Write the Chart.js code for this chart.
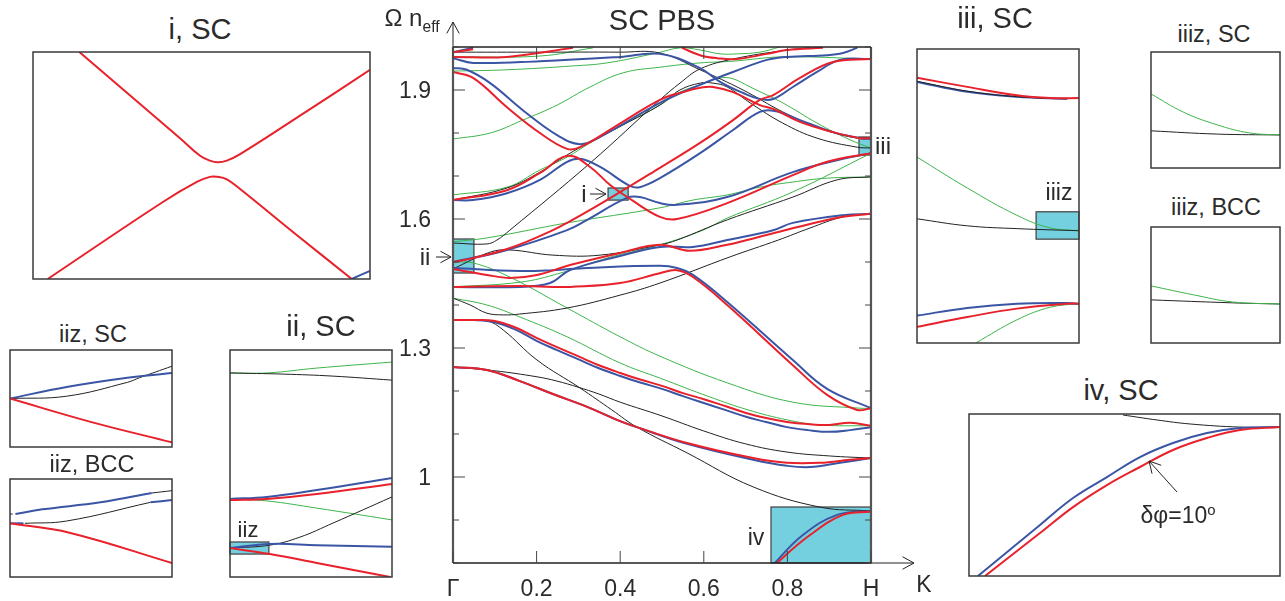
<!DOCTYPE html>
<html>
<head>
<meta charset="utf-8">
<title>SC PBS</title>
<script src="https://cdn.jsdelivr.net/npm/chart.js@4"></script>
<style>
  html, body { margin: 0; padding: 0; background: #fff; overflow: hidden; }
  canvas { position: absolute; }
  .label { position: absolute; font-family: "Liberation Sans", sans-serif; color: #2b2b2b;
           white-space: nowrap; transform: translate(-50%, -50%); line-height: 1; }
  .label sub, .label sup { font-size: 65%; }
</style>
</head>
<body>
<script>
// Tick labels of the main panel
const xTickLabels = ["Γ", "0.2", "0.4", "0.6", "0.8", "H"];
const yTickLabels = ["1", "1.3", "1.6", "1.9"];

// Main panel bands, K along Γ-H and Ω n_eff
const black1K = [0, .1, .201, .249, .299, .349, .4, .5, .6, .7, .799, .9, 1];
const black1W = [1.256, 1.247, 1.233, 1.223, 1.209, 1.193, 1.174, 1.142, 1.107, 1.077, 1.058, 1.049, 1.044];
const black2K = [0, .081, .12, .201, .304, .38, .44, .56, .718, .878, 1];
const black2W = [1.365, 1.363, 1.342, 1.272, 1.207, 1.156, 1.116, 1.056, .977, .93, .921];
const black3K = [0, .041, .081, .12, .16, .273, .4, .495, .663, .778, .854, .933, 1];
const black3W = [1.416, 1.4, 1.381, 1.377, 1.379, 1.393, 1.423, 1.451, 1.512, 1.551, 1.579, 1.605, 1.612];
const black4K = [0, .089, .136, .239, .352, .495, .536, .656, .813, .919, 1];
const black4W = [1.484, 1.523, 1.528, 1.516, 1.516, 1.54, 1.551, 1.598, 1.651, 1.691, 1.698];
const black5K = [0, .081, .105, .136, .328, .495, .543, .591, .67, .799, .854];
const black5W = [1.544, 1.542, 1.551, 1.574, 1.73, 1.877, 1.916, 1.949, 1.972, 1.993, 1.998];
const black6K = [0, .129, .208, .273, .328, .407, .495, .543, .591, .622, .656, .711, .789, .871, .967, 1];
const black6W = [1.644, 1.672, 1.709, 1.749, 1.779, 1.819, 1.865, 1.9, 1.916, 1.916, 1.907, 1.87, 1.823, 1.788, 1.767, 1.765];
const black7K = [0, .208, .4, .495, .591, .694, .789, .871, .95, 1];
const black7W = [1.988, 1.988, 1.988, 1.986, 1.947, 1.9, 1.849, 1.814, 1.791, 1.788];

const green1K = [0, .081, .16, .273, .4, .495, .615, .706, .799, .878, 1];
const green1W = [1.416, 1.4, 1.372, 1.326, 1.265, 1.23, 1.186, 1.156, 1.133, 1.121, 1.119];
const green2K = [0, .048, .136, .273, .4, .495, .656, .813, .974, 1];
const green2W = [1.5, 1.498, 1.465, 1.393, 1.326, 1.281, 1.219, 1.174, 1.16, 1.16];
const green3K = [0, .16, .256, .368, .495, .598, .656, .813, 1];
const green3W = [1.442, 1.453, 1.474, 1.509, 1.54, 1.574, 1.602, 1.663, 1.753];
const green4K = [0, .081, .273, .495, .574, .656, .734, .813, .895, 1];
const green4W = [1.547, 1.556, 1.591, 1.626, 1.644, 1.656, 1.674, 1.686, 1.695, 1.698];
const green5K = [0, .129, .208, .273, .328, .407, .495, .543, .591, .639, .67, .711, .789, .871, .95, 1];
const green5W = [1.656, 1.674, 1.714, 1.744, 1.777, 1.819, 1.865, 1.895, 1.912, 1.928, 1.926, 1.907, 1.87, 1.823, 1.784, 1.765];
const green6K = [0, .089, .167, .249, .328, .407, .495, .591, .67, .789, 1];
const green6W = [1.786, 1.8, 1.83, 1.865, 1.907, 1.94, 1.953, 1.963, 1.967, 1.977, 1.972];
const green7K = [0, .129, .287, .368, .488, .543, .591, .639, .679, .734, .782];
const green7W = [1.944, 1.947, 1.956, 1.963, 1.986, 1.998, 1.993, 1.984, 1.984, 1.988, 2];
const green8K = [0, .208, .335];
const green8W = [1.977, 1.979, 1.998];

const red1K = [0, .081, .16, .239, .321, .392, .44, .56, .718, .799, .878, .95, 1];
const red1W = [1.256, 1.249, 1.223, 1.193, 1.163, 1.133, 1.116, 1.079, 1.044, 1.033, 1.033, 1.04, 1.044];
const red2K = [0, .048, .1, .151, .201, .249, .299, .349, .4, .45, .5, .55, .6, .651, .701, .749, .799, .849, .9, .95, 1];
const red2W = [1.365, 1.365, 1.363, 1.347, 1.323, 1.302, 1.281, 1.26, 1.242, 1.226, 1.212, 1.195, 1.181, 1.165, 1.149, 1.137, 1.128, 1.123, 1.121, 1.126, 1.119];
const red3K = [0, .16, .239, .28, .4, .495, .536, .574, .656, .813, .895, .967, 1];
const red3W = [1.442, 1.444, 1.442, 1.442, 1.451, 1.474, 1.481, 1.465, 1.4, 1.26, 1.191, 1.156, 1.16];
const red4K = [0, .081, .136, .201, .28, .4, .495, .567, .656, .703, .794, .933, 1];
const red4W = [1.484, 1.47, 1.463, 1.47, 1.493, 1.521, 1.54, 1.526, 1.54, 1.551, 1.574, 1.605, 1.612];
const red5K = [0, .048, .144, .239, .273, .368, .495, .591, .67, .734, .766, .83, .909, 1];
const red5W = [1.5, 1.509, 1.535, 1.574, 1.591, 1.644, 1.719, 1.777, 1.83, 1.877, 1.888, 1.928, 1.965, 1.972];
const red6K = [0, .129, .208, .275, .328, .376, .428, .495, .536, .656, .813, .895, 1];
const red6W = [1.644, 1.667, 1.707, 1.747, 1.721, 1.679, 1.644, 1.605, 1.6, 1.637, 1.702, 1.733, 1.753];
const red7K = [0, .048, .129, .208, .273, .304, .383, .495, .55, .591, .622, .67, .734, .766, .83, .909, .974, 1];
const red7W = [1.942, 1.928, 1.86, 1.8, 1.763, 1.767, 1.812, 1.877, 1.895, 1.905, 1.907, 1.895, 1.865, 1.856, 1.826, 1.802, 1.788, 1.788];
const red8K = [0, .129, .287];
const red8W = [1.977, 1.977, 1.998];
const red9K = [0, .048];
const red9W = [1.988, 1.995];
const red10K = [.548, .591, .632, .679, .751, .799, .885];
const red10W = [1.998, 1.981, 1.974, 1.972, 1.984, 1.993, 1.998];
const red11K = [.765, .775, .854, .933, 1];
const red11W = [.787, .8, .865, .912, .919];

const blue1K = [0, .081, .16, .239, .321, .392, .44, .56, .718, .799, .854, .926, 1];
const blue1W = [1.256, 1.249, 1.223, 1.193, 1.163, 1.133, 1.116, 1.077, 1.04, 1.026, 1.023, 1.033, 1.044];
const blue2K = red2K;
const blue2W = [1.365, 1.365, 1.36, 1.342, 1.316, 1.295, 1.274, 1.253, 1.235, 1.219, 1.205, 1.188, 1.172, 1.156, 1.14, 1.128, 1.116, 1.109, 1.105, 1.109, 1.116];
const blue3K = [0, .16, .239, .321, .495, .536, .574, .656, .813, .895, 1];
const blue3W = [1.486, 1.479, 1.481, 1.486, 1.491, 1.486, 1.47, 1.407, 1.272, 1.205, 1.16];
const blue4K = [0, .16, .232, .28, .392, .495, .574, .656, .766, .813, .933, 1];
const blue4W = [1.442, 1.442, 1.451, 1.481, 1.512, 1.535, 1.535, 1.551, 1.574, 1.591, 1.609, 1.612];
const blue5K = [0, .129, .273, .321, .416, .447, .495, .536, .656, .813, .933, 1];
const blue5W = [1.5, 1.528, 1.574, 1.598, 1.649, 1.651, 1.637, 1.633, 1.651, 1.709, 1.74, 1.753];
const blue6K = [0, .048, .129, .208, .273, .304, .352, .423, .447, .495, .591, .67, .734, .77, .83, .909, .974, 1];
const blue6W = [1.644, 1.644, 1.66, 1.691, 1.733, 1.74, 1.721, 1.677, 1.674, 1.695, 1.753, 1.807, 1.849, 1.851, 1.83, 1.802, 1.788, 1.786];
const blue7K = [0, .033, .089, .167, .249, .304, .352, .495, .591, .67, .751, .799, .895, .933, .967];
const blue7W = [1.951, 1.947, 1.916, 1.853, 1.795, 1.774, 1.791, 1.87, 1.912, 1.942, 1.97, 1.977, 1.981, 1.986, 1.998];
const blue8K = [0, .048, .208, .4, .495, .591, .639, .694, .734, .766, .813, .871, .926, 1];
const blue8W = [1.974, 1.963, 1.967, 1.977, 1.984, 1.951, 1.919, 1.893, 1.879, 1.879, 1.907, 1.942, 1.97, 1.972];
const blue9K = [0, .048];
const blue9W = [1.988, 1.998];
const blue10K = [.761, .77, .837, .919, 1];
const blue10W = [.787, .8, .865, .912, .921];

// Inset i
const iUpperK = [.3776, .3919, .3948, .3962, .3973, .3986, .4005, .4086, .419];
const iUpperW = [1.672, 1.6614, 1.6592, 1.6586, 1.6584, 1.6586, 1.6594, 1.6639, 1.6698];
const iLowerK = [.3731, .3895, .3944, .3962, .3972, .3986, .4005, .4086, .4164];
const iLowerW = [1.644, 1.6535, 1.656, 1.6566, 1.6566, 1.6563, 1.6551, 1.6494, 1.644];
const iBlueK = [.4164, .419];
const iBlueW = [1.644, 1.645];

// Inset ii
const iiGreenAK = [0, .0114, .0268, .05];
const iiGreenAW = [1.5455, 1.5455, 1.5472, 1.5493];
const iiBlackAK = [0, .0164, .0318, .05];
const iiBlackAW = [1.5455, 1.5451, 1.5444, 1.543];
const iiBlueAK = [0, .0114, .0268, .05];
const iiBlueAW = [1.5016, 1.5023, 1.5047, 1.5089];
const iiRedAK = [0, .0114, .0268, .05];
const iiRedAW = [1.5012, 1.5016, 1.5033, 1.5068];
const iiGreenBK = [0, .0114, .0268, .05];
const iiGreenBW = [1.5016, 1.5009, 1.4984, 1.4943];
const iiBlackBK = [0, .0123, .0216, .0318, .05];
const iiBlackBW = [1.4845, 1.4855, 1.4883, 1.4932, 1.5023];
const iiBlueBK = [0, .0123, .0268, .05];
const iiBlueBW = [1.4845, 1.4859, 1.4855, 1.4849];
const iiRedBK = [0, .0123, .0268, .0494];
const iiRedBW = [1.4845, 1.4824, 1.4793, 1.4744];

// Insets iiz
const iizScBlueK = [0, .0042, .0087, .012];
const iizScBlueW = [1.4845, 1.485, 1.4854, 1.4856];
const iizScBlackK = [0, .0042, .0087, .0096, .012];
const iizScBlackW = [1.4845, 1.4846, 1.4852, 1.4854, 1.4859];
const iizScRedK = [0, .0059, .012];
const iizScRedW = [1.4845, 1.4835, 1.4826];

const iizBccBlueAK = [.0004, .0024, .0067, .0105];
const iizBccBlueAW = [1.4851, 1.4853, 1.4856, 1.486];
const iizBccBlackAK = [.0105, .012];
const iizBccBlackAW = [1.486, 1.4861];
const iizBccBlueBK = [0, .001];
const iizBccBlueBW = [1.4847, 1.4847];
const iizBccBlackBK = [.0011, .0042, .0104];
const iizBccBlackBW = [1.4847, 1.4848, 1.4856];
const iizBccBlueCK = [.0104, .012];
const iizBccBlueCW = [1.4856, 1.4857];
const iizBccBlackCK = [0, .0002];
const iizBccBlackCW = [1.4851, 1.4851];
const iizBccRedK = [0, .0044, .012];
const iizBccRedW = [1.4847, 1.4843, 1.483];

// Inset iii
const iiiRedAK = [.9713, .9802, .989, .9949, 1];
const iiiRedAW = [1.7866, 1.7853, 1.7841, 1.7837, 1.7837];
const iiiBlueAK = [.9713, .9802, .989, .9979];
const iiiBlueAW = [1.786, 1.7846, 1.7839, 1.7836];
const iiiBlackAK = [.9713, .9802, .989, .9979];
const iiiBlackAW = [1.7861, 1.7847, 1.7839, 1.7836];
const iiiGreenAK = [.9713, .9802, .989, .9949, 1];
const iiiGreenAW = [1.7753, 1.7709, 1.767, 1.7652, 1.7648];
const iiiBlackBK = [.9713, .9802, .989, 1];
const iiiBlackBW = [1.7665, 1.7655, 1.7651, 1.7648];
const iiiBlueBK = [.9713, .9802, .989, .9979, 1];
const iiiBlueBW = [1.7527, 1.7538, 1.7544, 1.7545, 1.7544];
const iiiRedBK = [.9713, .9802, .989, .9979, 1];
const iiiRedBW = [1.7511, 1.7525, 1.7537, 1.7544, 1.7544];
const iiiGreenBK = [.9817, .989, .9949, 1];
const iiiGreenBW = [1.7488, 1.7521, 1.7539, 1.7544];

// Insets iiiz
const iiizScGreenK = [.9924, .9943, .9963, .9982, 1];
const iiizScGreenW = [1.76609, 1.76548, 1.76505, 1.76478, 1.76471];
const iiizScBlackK = [.9924, .9963, 1];
const iiizScBlackW = [1.76485, 1.76474, 1.76471];
const iiizBccGreenK = [.9924, .9949, .9972, 1];
const iiizBccGreenW = [1.76552, 1.76522, 1.76498, 1.76491];
const iiizBccBlackK = [.9924, .9972, 1];
const iiizBccBlackW = [1.76505, 1.76495, 1.76491];

// Inset iv
const ivBlackK = [.8792, .9054, .9307, .9692, 1];
const ivBlackW = [.9294, .9254, .9222, .9197, .9197];
const ivBlueK = [.7677, .8154, .8408, .8669, .8923, .9177, .9438, .9692, 1];
const ivBlueW = [.8, .841, .8627, .8795, .8956, .9069, .9149, .9189, .9197];
const ivRedK = [.7731, .8154, .8408, .8669, .8923, .9177, .9438, .9692, 1];
const ivRedW = [.8, .8345, .8554, .8731, .8876, .9013, .9109, .9173, .9197];

const RED = "#e8212b", BLUE = "#3b55a5", GREEN = "#3db54a", BLACK = "#222222";
const CYAN = "#74cfdf", FRAME = "#3a3a3a";

const curve = (k, w, color) => ({
  data: k.map((x, i) => ({ x: x, y: w[i] })),
  borderColor: color,
  borderWidth: color === RED || color === BLUE ? 2 : 1,
  pointRadius: 0,
  tension: 0.4
});

const arrow = (ctx, x1, y1, x2, y2, head) => {
  const a = Math.atan2(y2 - y1, x2 - x1);
  ctx.beginPath();
  ctx.moveTo(x1, y1);
  ctx.lineTo(x2, y2);
  ctx.moveTo(x2 - head * Math.cos(a - 0.5), y2 - head * Math.sin(a - 0.5));
  ctx.lineTo(x2, y2);
  ctx.lineTo(x2 - head * Math.cos(a + 0.5), y2 - head * Math.sin(a + 0.5));
  ctx.stroke();
};

// Cyan zoom windows under the curves
const zoomBoxes = {
  id: "zoomBoxes",
  beforeDatasetsDraw(chart, args, opts) {
    const { ctx, scales } = chart;
    (opts.boxes || []).forEach(b => {
      const x0 = scales.x.getPixelForValue(b[0]), x1 = scales.x.getPixelForValue(b[1]);
      const y0 = scales.y.getPixelForValue(b[3]), y1 = scales.y.getPixelForValue(b[2]);
      ctx.fillStyle = CYAN;
      ctx.fillRect(x0, y0, x1 - x0, y1 - y0);
      ctx.strokeStyle = "#4a4a4a";
      ctx.lineWidth = 1.3;
      ctx.strokeRect(x0, y0, x1 - x0, y1 - y0);
    });
  }
};

// Panel frame, plus the inward ticks and axis arrows of the main panel
const frame = {
  id: "frame",
  afterDatasetsDraw(chart, args, opts) {
    const { ctx, chartArea: a, scales } = chart;
    ctx.save();
    ctx.strokeStyle = FRAME;
    ctx.lineWidth = 1.5;
    if (!opts.main) {
      ctx.strokeRect(a.left, a.top, a.width, a.height);
    } else {
      ctx.strokeStyle = "#555555";
      ctx.lineWidth = 2.2;
      ctx.beginPath();
      ctx.moveTo(a.left, a.top); ctx.lineTo(a.left, a.bottom);
      ctx.moveTo(a.right, a.top); ctx.lineTo(a.right, a.bottom);
      ctx.stroke();
      ctx.strokeStyle = "#222222";
      ctx.lineWidth = 1.4;
      ctx.beginPath();
      ctx.moveTo(a.left, a.top); ctx.lineTo(a.right, a.top);
      ctx.moveTo(a.left, a.bottom); ctx.lineTo(a.right, a.bottom);
      ctx.stroke();
      ctx.lineWidth = 1;
      ctx.strokeStyle = "#444444";
      ctx.beginPath();
      scales.x.ticks.forEach(t => {
        const x = scales.x.getPixelForValue(t.value);
        ctx.moveTo(x, a.bottom); ctx.lineTo(x, a.bottom - 12);
        ctx.moveTo(x, a.top); ctx.lineTo(x, a.top + 12);
      });
      scales.y.ticks.forEach(t => {
        const y = scales.y.getPixelForValue(t.value);
        const len = t.label ? 12 : 6;
        ctx.moveTo(a.left, y); ctx.lineTo(a.left + len, y);
        ctx.moveTo(a.right, y); ctx.lineTo(a.right - len, y);
      });
      ctx.stroke();
    }
    ctx.strokeStyle = "#222222";
    ctx.lineWidth = 1;
    (opts.arrows || []).forEach(p => arrow(ctx, p[0], p[1], p[2], p[3], p[4]));
    ctx.restore();
  }
};

// One chart per panel, each canvas placed by hand on the page
const addPanel = (left, top, right, bottom, kRange, wRange, datasets, pluginOpts) => {
  const pad = 2;
  const canvas = document.createElement("canvas");
  canvas.width = right - left + pad * 2;
  canvas.height = bottom - top + pad * 2;
  canvas.style.left = (left - pad) + "px";
  canvas.style.top = (top - pad) + "px";
  document.body.appendChild(canvas);
  return new Chart(canvas, {
    type: "line",
    data: { datasets: datasets },
    plugins: [zoomBoxes, frame],
    options: {
      responsive: false,
      animation: false,
      layout: { padding: pad, autoPadding: false },
      plugins: {
        legend: { display: false },
        tooltip: { enabled: false },
        zoomBoxes: { boxes: (pluginOpts && pluginOpts.boxes) || [] },
        frame: { arrows: (pluginOpts && pluginOpts.arrows) || [] }
      },
      scales: {
        x: { type: "linear", display: false, min: kRange[0], max: kRange[1] },
        y: { type: "linear", display: false, min: wRange[0], max: wRange[1] }
      }
    }
  });
};

// Main panel
const mainCanvas = document.createElement("canvas");
mainCanvas.width = 560;
mainCanvas.height = 601;
mainCanvas.style.left = "380px";
mainCanvas.style.top = "0px";
document.body.appendChild(mainCanvas);

new Chart(mainCanvas, {
  type: "line",
  data: {
    datasets: [
      curve(red11K, red11W, RED), curve(blue10K, blue10W, BLUE),
      curve(red1K, red1W, RED), curve(red2K, red2W, RED), curve(red3K, red3W, RED),
      curve(red4K, red4W, RED), curve(red5K, red5W, RED), curve(red6K, red6W, RED),
      curve(red7K, red7W, RED), curve(red8K, red8W, RED), curve(red9K, red9W, RED),
      curve(red10K, red10W, RED),
      curve(blue1K, blue1W, BLUE), curve(blue2K, blue2W, BLUE), curve(blue3K, blue3W, BLUE),
      curve(blue4K, blue4W, BLUE), curve(blue5K, blue5W, BLUE), curve(blue6K, blue6W, BLUE),
      curve(blue7K, blue7W, BLUE), curve(blue8K, blue8W, BLUE), curve(blue9K, blue9W, BLUE),
      curve(black1K, black1W, BLACK), curve(black2K, black2W, BLACK), curve(black3K, black3W, BLACK),
      curve(black4K, black4W, BLACK), curve(black5K, black5W, BLACK), curve(black6K, black6W, BLACK),
      curve(black7K, black7W, BLACK),
      curve(green1K, green1W, GREEN), curve(green2K, green2W, GREEN), curve(green3K, green3W, GREEN),
      curve(green4K, green4W, GREEN), curve(green5K, green5W, GREEN), curve(green6K, green6W, GREEN),
      curve(green7K, green7W, GREEN), curve(green8K, green8W, GREEN)
    ]
  },
  plugins: [zoomBoxes, frame],
  options: {
    responsive: false,
    animation: false,
    layout: { padding: { left: 0, right: 69, top: 47, bottom: 0 }, autoPadding: false },
    plugins: {
      legend: { display: false },
      tooltip: { enabled: false },
      zoomBoxes: {
        boxes: [[.371, .419, 1.644, 1.672], [0, .05, 1.4744, 1.5535],
                [.9713, 1, 1.7488, 1.7907], [.7608, 1, .8, .9302]]
      },
      frame: {
        main: true,
        arrows: [[491, 563, 534, 563, 13], [73, 47, 73, 22, 13], [210, 194, 226, 194, 12], [56, 257, 71, 257, 12]]
      }
    },
    scales: {
      x: {
        type: "linear", min: 0, max: 1,
        afterFit: s => { s.height = 38; },
        grid: { display: false }, border: { display: false },
        ticks: {
          stepSize: .2, autoSkip: false, maxRotation: 0, padding: 5,
          color: "#2b2b2b", font: { family: "Liberation Sans", size: 23 },
          callback: (v, i) => xTickLabels[i]
        }
      },
      y: {
        type: "linear", min: .8, max: 2,
        afterFit: s => { s.width = 73; },
        grid: { display: false }, border: { display: false },
        ticks: {
          stepSize: .1, autoSkip: false, padding: 14, labelOffset: 2,
          color: "#2b2b2b", font: { family: "Liberation Sans", size: 23 },
          callback: v => {
            const t = String(+v.toFixed(1));
            return yTickLabels.includes(t) ? t : "";
          }
        }
      }
    }
  }
});

// Insets
addPanel(33, 52, 370, 279, [.371, .419], [1.644, 1.672], [
  curve(iUpperK, iUpperW, RED), curve(iLowerK, iLowerW, RED), curve(iBlueK, iBlueW, BLUE)
]);

addPanel(10, 350, 172, 447, [0, .012], [1.4824, 1.4866], [
  curve(iizScRedK, iizScRedW, RED), curve(iizScBlueK, iizScBlueW, BLUE), curve(iizScBlackK, iizScBlackW, BLACK)
]);

addPanel(10, 479, 172, 577, [0, .012], [1.4824, 1.4866], [
  curve(iizBccRedK, iizBccRedW, RED), curve(iizBccBlueAK, iizBccBlueAW, BLUE),
  curve(iizBccBlueBK, iizBccBlueBW, BLUE), curve(iizBccBlueCK, iizBccBlueCW, BLUE),
  curve(iizBccBlackAK, iizBccBlackAW, BLACK), curve(iizBccBlackBK, iizBccBlackBW, BLACK),
  curve(iizBccBlackCK, iizBccBlackCW, BLACK)
]);

addPanel(230, 350, 392, 577, [0, .05], [1.4744, 1.5535], [
  curve(iiRedAK, iiRedAW, RED), curve(iiRedBK, iiRedBW, RED),
  curve(iiBlueAK, iiBlueAW, BLUE), curve(iiBlueBK, iiBlueBW, BLUE),
  curve(iiBlackAK, iiBlackAW, BLACK), curve(iiBlackBK, iiBlackBW, BLACK),
  curve(iiGreenAK, iiGreenAW, GREEN), curve(iiGreenBK, iiGreenBW, GREEN)
], { boxes: [[0, .012, 1.4824, 1.4866]] });

addPanel(917, 49, 1079, 343, [.9713, 1], [1.7488, 1.7907], [
  curve(iiiRedAK, iiiRedAW, RED), curve(iiiBlackAK, iiiBlackAW, BLACK), curve(iiiBlueAK, iiiBlueAW, BLUE),
  curve(iiiRedBK, iiiRedBW, RED), curve(iiiBlueBK, iiiBlueBW, BLUE), curve(iiiBlackBK, iiiBlackBW, BLACK),
  curve(iiiGreenAK, iiiGreenAW, GREEN), curve(iiiGreenBK, iiiGreenBW, GREEN)
], { boxes: [[.9924, 1, 1.7636, 1.7675]] });

addPanel(1151, 52, 1280, 168, [.9924, 1], [1.7636, 1.7675], [
  curve(iiizScGreenK, iiizScGreenW, GREEN), curve(iiizScBlackK, iiizScBlackW, BLACK)
]);

addPanel(1151, 227, 1280, 343, [.9924, 1], [1.7636, 1.7675], [
  curve(iiizBccGreenK, iiizBccGreenW, GREEN), curve(iiizBccBlackK, iiizBccBlackW, BLACK)
]);

addPanel(969, 414, 1280, 576, [.7608, 1], [.8, .9302], [
  curve(ivRedK, ivRedW, RED), curve(ivBlueK, ivBlueW, BLUE), curve(ivBlackK, ivBlackW, BLACK)
], { arrows: [[210, 80, 182, 49, 13]] });

// Titles and annotations
const addLabel = (html, x, y, size) => {
  const el = document.createElement("div");
  el.className = "label";
  el.innerHTML = html;
  el.style.left = x + "px";
  el.style.top = y + "px";
  el.style.fontSize = size + "px";
  document.body.appendChild(el);
};

addLabel("i, SC", 200, 29, 29);
addLabel("SC PBS", 662, 20, 29);
addLabel("iii, SC", 995, 18, 29);
addLabel("iiiz, SC", 1214, 35, 23.5);
addLabel("iiiz, BCC", 1216, 208, 23.5);
addLabel("ii, SC", 321, 326, 29);
addLabel("iiz, SC", 93, 335, 23.5);
addLabel("iiz, BCC", 92, 465, 23.5);
addLabel("iv, SC", 1121, 390, 29);
addLabel("Ω n<sub>eff</sub>", 412, 20, 24);
addLabel("K", 924, 584, 23);
addLabel("i", 584, 194, 24);
addLabel("ii", 425, 257, 24);
addLabel("iii", 883, 146, 24);
addLabel("iv", 756, 537, 23);
addLabel("iiz", 248, 530, 22);
addLabel("iiiz", 1059, 192, 23);
addLabel("δφ=10<sup>o</sup>", 1178, 515, 23);
</script>
</body>
</html>
